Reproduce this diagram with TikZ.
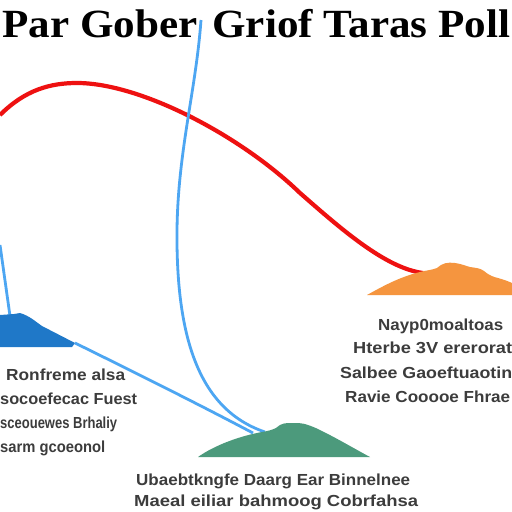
\documentclass[tikz,border=0pt]{standalone}
\usepackage{fontspec}
\setmainfont{Liberation Serif}
\newfontfamily\bodyfont{Liberation Sans}
\definecolor{txt}{HTML}{3C3C3C}
\definecolor{lineblue}{HTML}{4DA6F2}
\definecolor{moundblue}{HTML}{1F78C8}
\definecolor{redline}{HTML}{EE1111}
\definecolor{moundgreen}{HTML}{4C9A7C}
\definecolor{moundorange}{HTML}{F5953F}
\newcommand\fitw[2]{\resizebox{#1}{\height}{#2}}
\begin{document}
\begin{tikzpicture}[x=1pt,y=-1pt,
  bodytext/.style={inner sep=0pt,text=txt,font=\bodyfont\bfseries\fontsize{16}{16}\selectfont},
  bluelink/.style={draw=lineblue,line width=2.8pt},
  redlink/.style={draw=redline,line width=4.2pt},
  mound/.style={draw=none}]
\useasboundingbox[fill=white] (0,0) rectangle (512,512);
% title
\node[inner sep=0pt,anchor=base west,font=\bfseries\fontsize{40}{40}\selectfont] (title) at (2,37) {\fitw{508pt}{Par Gober\hspace{14pt}Griof Taras Poll}};
% connector end points
\coordinate (redA) at (0,115);
\coordinate (redPeak) at (77,83);
\coordinate (redMid) at (300,193);
\coordinate (orangeTop) at (423,273);
\coordinate (blueTop) at (201,20);
\coordinate (blueBend) at (177,230);
\coordinate (greenTopA) at (265,432);
\coordinate (blueTip) at (75,343);
\coordinate (greenTopB) at (253,433);
\coordinate (leftIn) at (0,245);
\coordinate (blueMoundTop) at (10,316);
% connectors
\draw[redlink] (redA) .. controls (25,90) and (50,83) .. (redPeak)
  .. controls (140,83) and (240,135) .. (redMid)
  .. controls (340,228) and (385,268) .. (orangeTop);
\draw[bluelink] (blueTop) .. controls (196,90) and (178,150) .. (blueBend)
  .. controls (176,340) and (200,410) .. (greenTopA);
\draw[bluelink] (blueTip) .. controls (140,375) and (200,405) .. (greenTopB);
\draw[bluelink] (leftIn) -- (blueMoundTop);
% mounds
\fill[moundblue] (0,347) -- (0,315) -- (14,314) -- (20,313) .. controls (30,316) and (36,322) .. (42,326)
  -- (75,343) -- (72,347) -- cycle;
\fill[moundorange] (367,295) .. controls (385,285) and (400,277) .. (420,272)
  .. controls (428,270) and (432,270) .. (437,268)
  .. controls (442,263) and (448,262) .. (455,263)
  .. controls (462,264) and (466,266) .. (470,267)
  .. controls (476,268) and (480,268) .. (484,271)
  .. controls (490,276) and (494,277) .. (498,278)
  .. controls (505,280) and (510,282) .. (512,283)
  -- (512,295) -- cycle;
\fill[moundgreen] (198,457) .. controls (215,445) and (240,436) .. (262,432)
  .. controls (268,431) and (272,430) .. (276,428)
  .. controls (281,423) and (286,423) .. (291,423)
  .. controls (298,423) and (303,423) .. (308,425)
  .. controls (314,427) and (318,429) .. (322,431)
  .. controls (340,440) and (355,449) .. (370,457) -- cycle;
% left text block
\node[bodytext,anchor=base west] (l1) at (6,380) {\fitw{119pt}{Ronfreme alsa}};
\node[bodytext,anchor=base west] (l2) at (0,404) {\fitw{137pt}{socoefecac Fuest}};
\node[bodytext,anchor=base west] (l3) at (0,428) {\fitw{117pt}{sceouewes Brhaliy}};
\node[bodytext,anchor=base west] (l4) at (0,452) {\fitw{105pt}{sarm gcoeonol}};
% right text block
\node[bodytext,anchor=base west] (r1) at (378,330) {\fitw{125pt}{Nayp0moaltoas}};
\node[bodytext,anchor=base west] (r2) at (353,353) {\fitw{159pt}{Hterbe 3V ererorat}};
\node[bodytext,anchor=base west] (r3) at (340,378) {\fitw{172pt}{Salbee Gaoeftuaotin}};
\node[bodytext,anchor=base west] (r4) at (345,402) {\fitw{165pt}{Ravie Cooooe Fhrae}};
% bottom text block
\node[bodytext,anchor=base west] (b1) at (136,485) {\fitw{274pt}{Ubaebtkngfe Daarg Ear Binnelnee}};
\node[bodytext,anchor=base west] (b2) at (134,506) {\fitw{284pt}{Maeal eiliar bahmoog Cobrfahsa}};
\end{tikzpicture}
\end{document}
